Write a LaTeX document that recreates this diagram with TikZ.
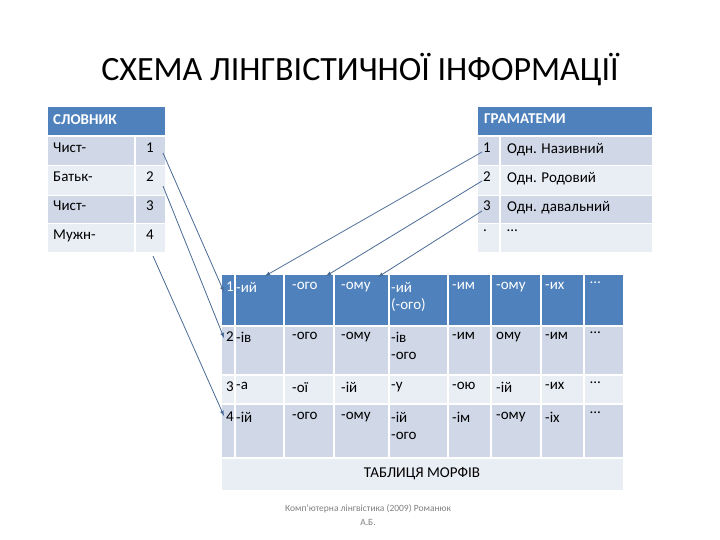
\documentclass[tikz,border=0pt]{standalone}
\usepackage{fontspec}
\setmainfont{Carlito}
\definecolor{hdr}{HTML}{4F81BD}
\definecolor{rowa}{HTML}{D0D8E8}
\definecolor{rowb}{HTML}{E9EDF4}
\definecolor{ln}{HTML}{4A6A96}
\begin{document}
\begin{tikzpicture}[x=1pt,y=-1pt,
  cell/.style={anchor=north west,inner sep=0pt,font=\fontsize{15}{17}\selectfont},
  wcell/.style={cell,text=white},
  arr/.style={draw=ln,line width=0.8pt,-latex}]
\useasboundingbox (0,0) rectangle (720,540);
\node at (360,70) {\fontsize{34}{40}\selectfont СХЕМА ЛІНГВІСТИЧНОЇ ІНФОРМАЦІЇ};
% left table
\fill[hdr] (48,107) rectangle (165,135);
\fill[rowa] (48,137) rectangle (134,165); \fill[rowa] (136,137) rectangle (165,165);
\fill[rowb] (48,166) rectangle (134,195); \fill[rowb] (136,166) rectangle (165,195);
\fill[rowa] (48,196) rectangle (134,223); \fill[rowa] (136,196) rectangle (165,223);
\fill[rowb] (48,224) rectangle (134,252); \fill[rowb] (136,224) rectangle (165,252);
\node[wcell] (sl) at (53,114) {\bfseries СЛОВНИК};
\node[cell] at (53,143) {Чист-}; \node[cell] (l1) at (146,143) {1};
\node[cell] at (53,172) {Батьк-}; \node[cell] (l2) at (146,172) {2};
\node[cell] at (53,201) {Чист-}; \node[cell] (l3) at (146,201) {3};
\node[cell] at (53,230) {Мужн-}; \node[cell] (l4) at (146,230) {4};
% right table
\fill[hdr] (478,107) rectangle (652,135);
\fill[rowa] (478,137) rectangle (499,165); \fill[rowa] (501,137) rectangle (652,165);
\fill[rowb] (478,166) rectangle (499,195); \fill[rowb] (501,166) rectangle (652,195);
\fill[rowa] (478,196) rectangle (499,223); \fill[rowa] (501,196) rectangle (652,223);
\fill[rowb] (478,224) rectangle (499,252); \fill[rowb] (501,224) rectangle (652,252);
\node[wcell] (gr) at (484,114) {\bfseries ГРАМАТЕМИ};
\node[cell] (r1) at (483,143) {1}; \node[cell] at (507,143) {Одн. Називний};
\node[cell] (r2) at (483,172) {2}; \node[cell] at (507,172) {Одн. Родовий};
\node[cell] (r3) at (483,201) {3}; \node[cell] at (507,201) {Одн. давальний};
\node[cell] at (483,230) {.}; \node[cell] at (507,230) {…};
% middle table
\foreach \ya/\yb/\c in {275/325/hdr,327/374/rowa,376/403/rowb,405/457/rowa,459/490/rowb}{
  \foreach \xa/\xb in {222/234,236/283,285/333,335/388,390/447,449/490,492/540,542/583,585/623}{
    \fill[\c] (\xa,\ya) rectangle (\xb,\yb);}}
\fill[rowb] (222,459) rectangle (623,490);
\node[wcell] (m1) at (226,282) {1};
\foreach \x/\t in {236/-ий,292/-ого,341/-ому,391/{-ий\\(-ого)},452/-им,496/-ому,545/-их,590/…}
  \node[wcell,align=left] at (\x,282) {\t};
\node[cell] (m2) at (226,332) {2};
\foreach \x/\t in {236/-ів,292/-ого,341/-ому,391/{-ів\\-ого},452/-им,496/ому,545/-им,590/…}
  \node[cell,align=left] at (\x,332) {\t};
\node[cell] (m3) at (226,382) {3};
\foreach \x/\t in {236/-а,292/-ої,341/-ій,391/-у,452/-ою,496/-ій,545/-их,590/…}
  \node[cell,align=left] at (\x,382) {\t};
\node[cell] (m4) at (226,412) {4};
\foreach \x/\t in {236/-ій,292/-ого,341/-ому,391/{-ій\\-ого},452/-ім,496/-ому,545/-іх,590/…}
  \node[cell,align=left] at (\x,412) {\t};
\node[cell,anchor=center] (tm) at (422,474) {ТАБЛИЦЯ МОРФІВ};
\node[align=center,text=gray,font=\fontsize{9.5}{14}\selectfont] (ft) at (368,515) {Комп'ютерна лінгвістика (2009) Романюк\\А.Б.};
% connectors
\coordinate (a1) at (224,292); \coordinate (a2) at (224,338); \coordinate (a4) at (224,416);
\coordinate (b1) at (265,276); \coordinate (b2) at (326,276); \coordinate (b3) at (378,277);
\draw[arr] (163,153) -- (a1);
\draw[arr] (163,186) -- (a2);
\draw[arr] (153,256) -- (a4);
\draw[arr] (482,152) -- (b1);
\draw[arr] (482,181) -- (b2);
\draw[arr] (482,211) -- (b3);
\end{tikzpicture}
\end{document}
